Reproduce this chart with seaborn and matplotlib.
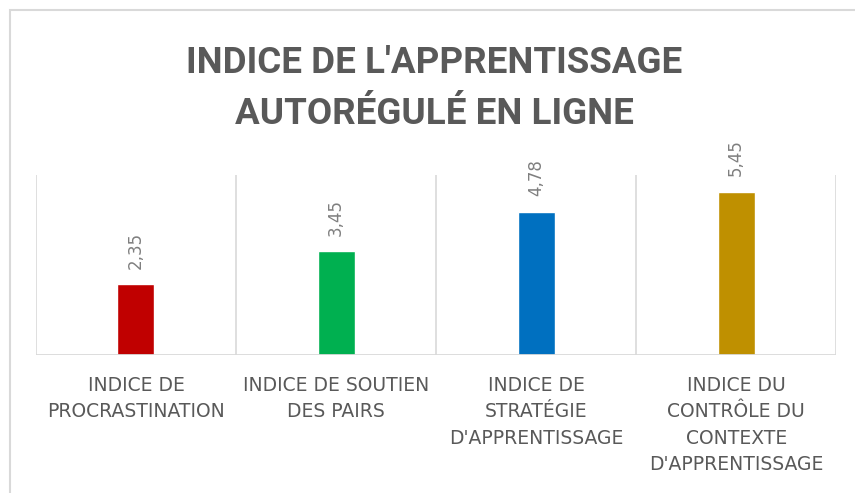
import matplotlib
matplotlib.use("Agg")
import matplotlib.pyplot as plt
import matplotlib.patches as mpatches
import seaborn as sns

categories = [
    "INDICE DE\nPROCRASTINATION",
    "INDICE DE SOUTIEN\nDES PAIRS",
    "INDICE DE\nSTRATÉGIE\nD'APPRENTISSAGE",
    "INDICE DU\nCONTRÔLE DU\nCONTEXTE\nD'APPRENTISSAGE",
]
values = [2.35, 3.45, 4.78, 5.45]
value_labels = ["2,35", "3,45", "4,78", "5,45"]
colors = ["#c00000", "#00b050", "#0070c0", "#bf9000"]

sns.set_style("white")
plt.rcParams["font.family"] = ["DejaVu Sans"]

fig = plt.figure(figsize=(8.55, 4.93), dpi=100)
ax = fig.add_axes([0.042, 0.28, 0.936, 0.365])

# outer chart border (light grey frame)
fig.patches.append(mpatches.Rectangle((10 / 855, -0.1), 1.2, 1 - 10 / 493 + 0.1,
                                      transform=fig.transFigure, fill=False,
                                      edgecolor="#d9d9d9", linewidth=1.5))

sns.barplot(x=list(range(len(values))), y=values, hue=list(range(len(values))),
            palette=colors, width=0.185, legend=False, ax=ax, saturation=1)

ax.set_xlim(-0.5, len(values) - 0.5)
ax.set_ylim(0, 6)
ax.vlines([i - 0.5 for i in range(len(values) + 1)], 0, 6, color="#d9d9d9", linewidth=1.2)
ax.axhline(0, color="#d9d9d9", linewidth=2)

for i, (v, lab) in enumerate(zip(values, value_labels)):
    ax.annotate(lab, (i, v), xytext=(0, 11), textcoords="offset points",
                rotation=90, ha="center", va="bottom", color="#7f7f7f", fontsize=12)

ax.set_xticks(range(len(values)))
ax.set_xticklabels(categories, color="#595959", fontsize=13.5, linespacing=1.5)
ax.tick_params(axis="x", length=0, pad=15)
ax.set_yticks([])
ax.set_xlabel("")
ax.set_ylabel("")
for s in ["top", "left", "right", "bottom"]:
    ax.spines[s].set_visible(False)

fig.text(0.508, 1 - 45 / 493, "INDICE DE L'APPRENTISSAGE\nAUTORÉGULÉ EN LIGNE",
         ha="center", va="top", fontsize=26.5, fontweight="bold", color="#595959",
         linespacing=1.55, family=["Roboto", "DejaVu Sans"])

fig.savefig("out.png", dpi=100)
